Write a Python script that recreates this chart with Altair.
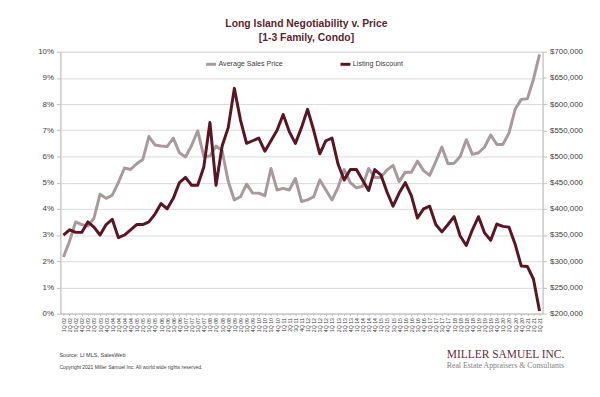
import altair as alt
import pandas as pd

# Quarters 1Q 02 .. 3Q 21
quarters = [f"{q}Q {y:02d}" for y in range(2, 22) for q in range(1, 5)][:79]

avg_price = [
    308000, 338000, 375000, 370000, 367000, 382000, 428000, 420000, 426000, 450000,
    478000, 475000, 486000, 494000, 538000, 522000, 520000, 519000, 535000, 507000,
    499000, 521000, 549000, 500000, 501000, 520000, 511000, 452000, 417000, 423000,
    447000, 430000, 430000, 425000, 477000, 436000, 439000, 436000, 458000, 414000,
    417000, 423000, 455000, 436000, 417000, 441000, 475000, 450000, 440000, 443000,
    477000, 460000, 460000, 474000, 483000, 452000, 470000, 470000, 491000, 473000,
    464000, 490000, 518000, 486000, 487000, 500000, 532000, 504000, 507000, 518000,
    541000, 523000, 523000, 545000, 590000, 609000, 610000, 647000, 695000,
]

listing_discount = [
    3.0, 3.2, 3.1, 3.1, 3.5, 3.3, 3.0, 3.4, 3.6, 2.9,
    3.0, 3.2, 3.4, 3.4, 3.5, 3.8, 4.2, 4.0, 4.4, 5.0,
    5.2, 4.9, 4.9, 5.6, 7.3, 4.9, 6.4, 7.1, 8.6, 7.4,
    6.5, 6.6, 6.7, 6.2, 6.6, 7.0, 7.6, 6.95, 6.5, 7.1,
    7.8, 7.0, 6.1, 6.6, 6.7, 5.7, 5.1, 5.5, 5.5, 5.1,
    4.7, 5.5, 5.3, 4.65, 4.1, 4.6, 5.0, 4.5, 3.65, 4.0,
    4.1, 3.4, 3.12, 3.4, 3.7, 2.96, 2.6, 3.2, 3.7, 3.08,
    2.8, 3.42, 3.33, 3.3, 2.65, 1.82, 1.8, 1.32, 0.1,
]

series_names = ["Average Sales Price", "Listing Discount"]
series_colors = ["#a89a9c", "#5a1422"]

pct_ticks = [i / 100 for i in range(0, 11)]
price_ticks = list(range(200000, 700001, 50000))

title_lines = ["Long Island Negotiability v. Price", "[1-3 Family, Condo]"]
source_text = "Source:  LI MLS, SalesWeb"
copyright_text = "Copyright 2021 Miller Samuel Inc.  All world wide rights reserved."
logo_text = "MILLER SAMUEL INC."
logo_sub = "Real Estate Appraisers & Consultants"

df = pd.DataFrame({
    "quarter": quarters,
    "price": avg_price,
    "discount": [v / 100 for v in listing_discount],
})

FONT = "Liberation Sans"
MAROON = "#5c1f2e"

color = alt.Color(
    "series:N",
    title=None,
    scale=alt.Scale(domain=series_names, range=series_colors),
    legend=alt.Legend(
        orient="none", legendX=146, legendY=6, direction="horizontal",
        symbolType="stroke", symbolStrokeWidth=3, symbolSize=100,
        labelFontSize=7.2, labelFont=FONT, labelColor="#404040",
        columnPadding=52, labelOffset=1,
    ),
)

x = alt.X(
    "quarter:N", sort=quarters, title=None,
    scale=alt.Scale(type="point", padding=0.5),
    axis=alt.Axis(labelAngle=270, labelFontSize=5.3, labelFont=FONT, labelColor="#404040",
                  labelPadding=2, tickSize=2, tickColor="#bfbfbf", domainColor="#bfbfbf",
                  labelOverlap=False, grid=False),
)

price_line = alt.Chart(df).transform_calculate(series="'Average Sales Price'").mark_line(
    strokeWidth=3, strokeJoin="round"
).encode(
    x=x,
    y=alt.Y("price:Q", title=None,
            scale=alt.Scale(domain=[200000, 700000], nice=False, zero=False),
            axis=alt.Axis(orient="right", values=price_ticks, format="$,.0f", grid=False,
                          labelFontSize=8, labelFont=FONT, labelColor="#404040",
                          tickSize=4, tickColor="#bfbfbf", domainColor="#bfbfbf", labelPadding=3)),
    color=color,
)

disc_line = alt.Chart(df).transform_calculate(series="'Listing Discount'").mark_line(
    strokeWidth=3, strokeJoin="round"
).encode(
    x=x,
    y=alt.Y("discount:Q", title=None,
            scale=alt.Scale(domain=[0, 0.1], nice=False),
            axis=alt.Axis(orient="left", values=pct_ticks, format=".0%", grid=True,
                          gridColor="#d9d9d9", labelFontSize=8, labelFont=FONT, labelColor="#404040",
                          tickSize=4, tickColor="#bfbfbf", domainColor="#bfbfbf", labelPadding=3)),
    color=color,
)

foot_df = pd.DataFrame({"t": [source_text]})
source = alt.Chart(foot_df).mark_text(
    align="left", baseline="middle", font=FONT, fontSize=5.6, color="#404040"
).encode(text="t:N", x=alt.value(-1), y=alt.value(307))

copy_df = pd.DataFrame({"t": [copyright_text]})
copyr = alt.Chart(copy_df).mark_text(
    align="left", baseline="middle", font=FONT, fontSize=5.1, color="#404040"
).encode(text="t:N", x=alt.value(-1), y=alt.value(319))

logo_df = pd.DataFrame({"t": [logo_text]})
logo = alt.Chart(logo_df).mark_text(
    align="left", baseline="middle", font="Liberation Serif", fontSize=11.6, color="#6b2a36"
).encode(text="t:N", x=alt.value(391), y=alt.value(307))

sub_df = pd.DataFrame({"t": [logo_sub]})
logo2 = alt.Chart(sub_df).mark_text(
    align="left", baseline="middle", font="Liberation Serif", fontSize=7.9, color="#808080"
).encode(text="t:N", x=alt.value(391), y=alt.value(318))

chart = alt.layer(price_line, disc_line, source, copyr, logo, logo2).resolve_scale(
    y="independent"
).properties(
    width=488,
    height=265,
    autosize=alt.AutoSizeParams(type="none"),
    padding={"left": 53, "top": 42, "right": 50, "bottom": 65},
    title=alt.TitleParams(
        text=title_lines, fontSize=10.5, font=FONT, fontWeight="bold", color=MAROON,
        anchor="middle", offset=4, lineHeight=14.5, dx=5,
    ),
).configure_view(stroke=None).configure(background="white")

chart.save("out.html", embed_options={"renderer": "svg", "actions": False})
